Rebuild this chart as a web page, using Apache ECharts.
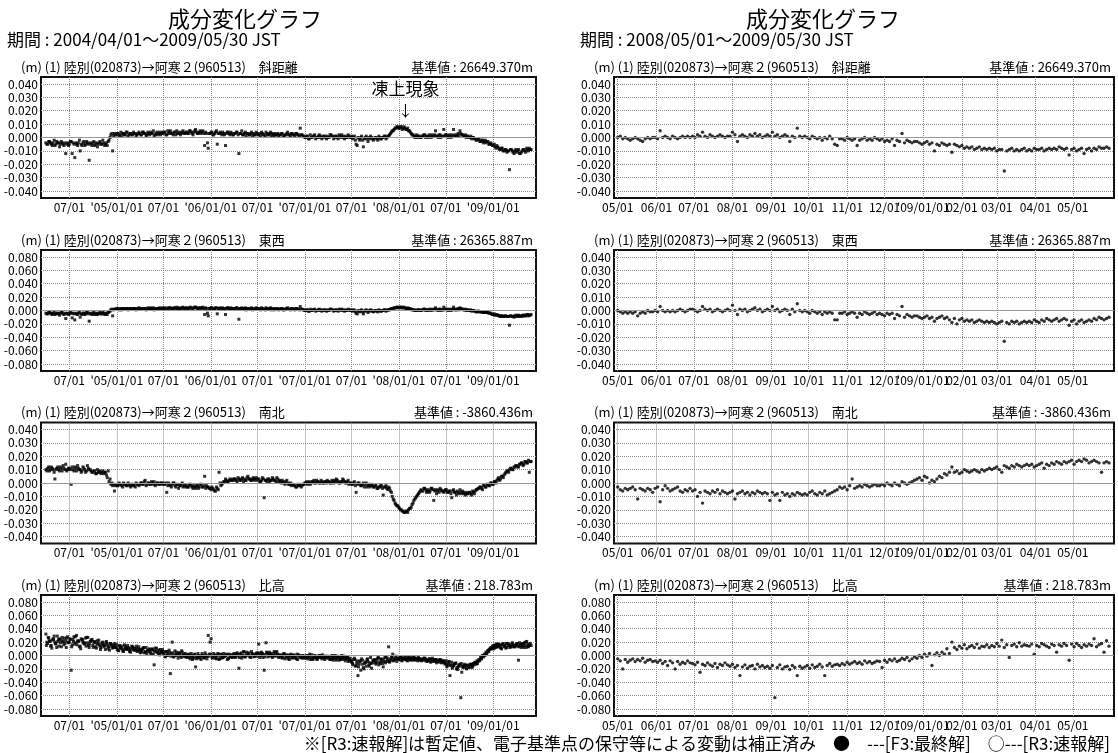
<!DOCTYPE html>
<html><head><meta charset="utf-8">
<script src="https://cdn.jsdelivr.net/npm/echarts@6/dist/echarts.min.js"></script>
<style>html,body{margin:0;padding:0;background:#fff}#c{width:1118px;height:753px}</style>
</head><body><div id="c"></div><script>
// ===== DATA (values in mm) =====
// Long period: interleaved weekly sample sets (A: from 04/01, B: from 04/05, C: from 04/03 for the noisy height series)
const longStartA = '2004-04-01', longStartB = '2004-04-05', longStartC = '2004-04-03', longStepDays = 7;
const shortStart = '2008-05-01', shortStepDays = 2;

const longSlopeA = [
-4,-5,-3,-5,-4,-6,-3,-4,-5,-4,-6,-12,-4,
-5,-3,-4,-15,-5,-4,-10,-6,-3,-5,-4,-17,-5,
-4,-6,-4,-5,-3,-5,-4,-5,-6,-2,2,-10,3,
2,3,2,1,3,2,4,2,3,2,3,1,3,
3,2,4,3,2,3,4,3,1,3,2,4,3,
3,4,2,3,5,3,4,2,3,4,3,5,3,
4,3,5,3,4,6,3,4,3,5,-6,3,-8,
3,4,2,4,-5,3,3,4,2,3,4,2,3,
2,3,4,-12,3,2,3,1,3,2,4,3,2,
3,2,1,3,2,4,2,3,1,2,3,2,1,
2,3,1,2,4,2,3,2,1,3,2,7,2,
1,0,1,-1,0,1,2,0,1,0,-1,1,0,
1,0,2,1,0,1,-1,1,2,0,1,0,1,
0,-1,1,-5,0,-2,1,-7,0,-1,0,1,-1,
-1,0,-2,0,-1,0,1,0,1,3,5,6,7,
8,7,8,7,7,6,5,4,2,1,1,0,1,
0,1,2,1,0,1,2,1,5,1,2,0,1,
1,2,0,1,2,6,1,2,1,3,2,1,0,
1,0,-1,0,-1,-2,-1,-3,-2,-3,-4,-3,-5,
-5,-6,-7,-6,-8,-9,-8,-10,-9,-10,-24,-9,-11,
-10,-11,-9,-12,-10,-9,-11,-9,-8,-9];
const longSlopeB = [
-5,-3,-4,-6,-2,-5,-4,-7,-3,-5,-4,-5,-6,
-3,-12,-5,-4,-6,-2,-5,-4,-6,-3,-5,-4,-6,
-3,-5,-7,-4,-5,-2,-6,-4,-3,0,3,1,2,
3,1,4,3,2,4,1,3,2,4,3,2,4,
2,4,3,1,4,2,3,5,2,4,3,2,4,
4,2,5,4,3,2,4,5,3,2,4,3,4,
3,5,4,2,5,4,3,5,4,3,4,-4,3,
4,2,3,5,3,4,2,3,-6,4,3,4,2,
3,4,2,3,5,2,4,3,2,3,1,2,4,
2,3,4,2,1,3,2,4,3,1,2,3,2,
3,1,2,3,2,1,3,2,3,2,1,2,1,
0,1,-1,2,0,1,-1,0,2,1,0,1,-1,
0,2,1,-1,1,0,2,0,1,-1,0,2,0,
1,0,-2,-6,-1,0,-2,-1,1,-3,-1,0,-2,
0,-1,1,-1,0,1,-1,1,2,4,5,7,8,
7,8,6,8,6,7,5,3,2,0,2,1,0,
1,2,0,1,2,0,1,2,1,0,2,1,6,
2,1,2,0,1,2,1,3,5,2,1,2,1,
0,1,0,-1,-2,-1,-3,-2,-4,-2,-3,-5,-4,
-6,-5,-8,-7,-9,-8,-10,-9,-11,-10,-9,-10,-12,
-9,-10,-12,-11,-9,-10,-8,-10,-9];

const longEWA = [
-4,-5,-3,-5,-4,-6,-4,-5,-4,-3,-6,-12,-4,
-5,-4,-4,-14,-5,-4,-10,-6,-4,-5,-3,-16,-5,
-4,-6,-4,-5,-3,-5,-4,-5,-6,-2,1,-8,2,
2,3,2,1,3,2,3,2,3,2,3,1,3,
3,2,3,3,2,3,4,3,1,3,2,4,3,
3,4,2,3,4,3,4,2,3,4,3,5,3,
4,3,5,3,4,5,3,4,3,5,-6,3,-8,
3,4,2,4,-5,3,3,4,2,3,4,2,3,
2,3,4,-13,3,2,3,1,3,2,4,3,2,
3,2,1,3,2,4,2,3,1,2,3,2,1,
2,3,1,2,4,2,3,2,1,3,2,6,2,
1,0,1,-1,0,1,2,0,1,0,-1,1,0,
1,0,2,1,0,1,-1,1,2,0,1,0,1,
0,-1,1,-4,0,-2,1,-5,0,-1,0,1,-1,
-1,0,-2,0,-1,0,1,0,1,2,3,4,4,
5,4,5,4,4,3,3,2,1,1,0,0,1,
0,1,2,1,0,1,2,1,4,1,2,0,1,
1,2,0,1,2,5,1,2,1,3,2,1,0,
1,0,-1,0,-1,-2,-1,-2,-2,-3,-3,-3,-4,
-5,-6,-7,-6,-8,-9,-8,-9,-8,-9,-22,-8,-9,
-8,-9,-7,-8,-9,-7,-8,-6,-7,-6];
const longEWB = [
-5,-3,-4,-6,-3,-5,-4,-7,-3,-5,-4,-5,-6,
-3,-11,-5,-4,-6,-3,-5,-4,-6,-3,-5,-4,-6,
-3,-5,-6,-4,-5,-3,-6,-4,-3,-1,2,1,2,
3,1,3,3,2,3,1,3,2,3,3,2,4,
2,3,3,1,4,2,3,4,2,3,3,2,4,
3,2,4,4,3,2,4,5,3,2,4,3,4,
3,4,4,2,5,4,3,4,4,3,4,-4,3,
4,2,3,4,3,4,2,3,-6,4,3,4,2,
3,4,2,3,4,2,4,3,2,3,1,2,4,
2,3,4,2,1,3,2,4,3,1,2,3,2,
3,1,2,3,2,1,3,2,3,2,1,2,1,
0,1,-1,2,0,1,-1,0,2,1,0,1,-1,
0,2,1,-1,1,0,2,0,1,-1,0,2,0,
1,0,-2,-5,-1,0,-2,-1,1,-3,-1,0,-2,
0,-1,1,-1,0,1,-1,1,1,3,3,4,5,
4,5,4,5,3,4,3,2,1,0,1,1,0,
1,2,0,1,2,0,1,2,1,0,2,1,5,
2,1,2,0,1,2,1,3,4,2,1,2,1,
0,1,0,-1,-2,-1,-2,-2,-3,-2,-3,-4,-4,
-6,-5,-7,-7,-8,-8,-9,-8,-9,-9,-8,-9,-10,
-7,-8,-9,-8,-7,-8,-6,-8,-7];

const longNSA = [
10,11,9,12,10,3,11,10,12,9,11,14,10,
11,-1,10,12,9,11,10,9,11,8,13,10,9,
8,9,7,8,9,8,7,8,4,1,-1,-2,-6,
-1,-2,-1,-2,0,-1,-2,-1,-3,-1,-2,0,-1,
-1,0,-1,2,-1,0,-1,0,1,-1,0,-1,0,
0,-1,-7,0,-2,-1,0,-3,-1,-2,-1,-3,-2,
-2,-3,-1,-3,-2,-4,-2,-3,-1,-3,5,-2,-3,
-4,-3,-5,-6,-4,8,-2,0,1,2,1,3,2,
2,3,1,3,2,4,3,2,5,3,2,4,3,
2,3,1,4,-11,2,3,1,2,3,2,4,1,
1,2,0,1,0,-1,-2,-1,-2,-3,-2,-1,-2,
-1,0,-1,1,0,1,0,2,1,0,1,0,1,
2,1,0,1,2,3,1,0,1,2,0,1,-1,
0,-1,1,-7,0,-1,-2,0,-1,-3,-1,-2,-2,
-3,-2,-4,-3,-2,-9,-3,-4,-3,-6,-10,-13,-16,
-17,-19,-20,-21,-22,-21,-20,-19,-16,-13,-11,-9,-7,
-5,-6,-4,-7,-5,-6,-4,-13,-5,-6,-7,-5,-6,
-6,-5,-7,-6,-11,-5,-7,-6,-8,-7,-6,-8,-7,
-8,-7,-9,-7,-6,-5,-4,-3,-5,-2,-3,-1,-2,
0,-1,1,2,4,3,5,6,8,9,10,11,10,
12,13,12,14,15,14,16,15,8,16];
const longNSB = [
9,12,10,11,8,10,12,9,11,13,10,9,11,
10,12,9,11,13,10,8,12,10,9,11,10,8,
9,7,10,8,7,9,8,6,9,3,0,-1,-2,
-2,0,-1,-3,-1,-2,0,-2,-1,-2,-3,-1,-2,
0,-1,1,-2,0,-1,1,-1,-2,0,-1,0,-1,
-1,0,-2,-1,-3,0,-2,-1,-4,-2,0,-2,-3,
-3,-1,-2,-4,-3,-2,-4,-1,-3,-2,-4,-3,-4,
-5,-4,-6,-3,-5,0,-1,1,3,1,2,2,3,
3,2,4,2,3,1,2,4,3,2,3,2,4,
3,1,2,3,2,1,3,2,4,2,1,3,2,
0,1,-1,2,-1,0,-1,-2,-3,-1,-2,-3,-1,
0,1,0,-1,1,2,0,1,0,2,0,1,0,
1,0,2,0,1,2,0,1,3,1,0,2,0,
-1,0,-2,-1,0,-2,-1,-3,0,-2,-3,-1,-3,
-2,-4,-3,-2,-4,-3,-2,-5,-4,-7,-12,-15,-17,
-18,-20,-21,-22,-21,-22,-19,-18,-15,-12,-10,-8,-6,
-6,-4,-5,-6,-7,-4,-5,-6,-8,-5,-4,-6,-7,
-5,-7,-6,-8,-6,-7,-9,-7,-5,-8,-7,-9,-8,
-7,-8,-6,-8,-5,-4,-3,-4,-2,-3,-1,-2,0,
-1,1,0,3,2,5,4,7,9,8,11,10,12,
13,12,14,15,13,16,15,17,16];

const longUDA = [
32,18,22,15,25,20,12,24,19,27,16,22,28,
20,-22,24,17,30,21,14,23,18,26,19,12,22,
15,21,11,18,14,19,16,9,17,13,18,11,14,
12,8,15,10,6,13,9,11,5,12,8,10,7,
9,5,11,6,3,8,4,10,-14,7,5,1,6,
3,-1,6,1,-27,20,-2,2,0,4,-3,1,-2,
-2,1,-5,0,-4,-17,-3,-1,-6,0,-3,-1,30,
20,-2,3,-4,0,-6,2,-3,-1,1,-5,0,-2,
1,-3,4,-19,2,-1,5,0,3,-2,6,1,-1,
4,17,0,3,-22,19,2,5,-1,3,0,6,-2,
1,-4,3,-2,0,-6,2,-3,-1,-5,1,-2,-4,
-1,-3,-5,0,-2,-6,-1,-4,-2,0,-5,-3,-1,
-4,-2,-6,-1,-3,-7,-2,-5,0,-4,-8,-3,-5,
-7,-12,-4,-15,-30,-9,-5,-18,-10,-6,-14,-3,-11,
-8,-13,-4,-10,-6,-17,-2,-9,13,-5,-3,-7,-1,
-4,-6,-2,-5,-3,-7,-4,-6,-5,-3,-7,-5,-6,
-5,-7,-4,-6,-8,-5,-7,-9,-6,-8,-10,-7,-9,
-11,-8,-13,-30,-10,-15,-12,-18,-14,-63,-16,-13,-19,
-15,-17,-13,-12,-10,-8,-6,-3,0,2,5,7,9,
12,10,15,13,17,12,16,14,11,18,15,13,16,
13,17,-7,15,18,12,20,14,16,15];
const longUDB = [
20,26,14,23,29,17,21,25,13,22,18,26,20,
24,16,28,19,22,13,25,20,17,27,15,21,24,
19,13,22,16,12,20,15,21,10,18,14,16,12,
9,14,11,7,16,10,12,8,14,9,11,6,13,
7,10,4,12,8,6,9,2,11,5,8,4,9,
2,6,0,5,3,-2,7,1,4,-1,5,2,0,
1,-3,3,-2,2,-5,0,-2,3,-4,1,-1,2,
25,-3,1,-5,2,-1,-4,3,0,-6,2,-2,1,
-2,3,-1,2,-4,6,-2,1,4,-3,2,-1,3,
2,-3,5,1,-2,4,0,3,-3,6,-1,2,0,
-2,2,-5,1,-3,0,-4,1,-2,-6,0,-3,-1,
-3,0,-2,-6,1,-4,-2,-5,0,-3,-1,-6,-2,
-2,-6,0,-4,-5,-1,-7,-3,-6,-2,-5,-9,-4,
-10,-6,-16,-8,-13,-22,-7,-12,-16,-9,-11,-19,-8,
-11,-6,-14,-5,-12,-9,-3,-7,-10,-2,-8,-4,-9,
-6,-3,-7,-4,-5,-8,-2,-5,-7,-4,-6,-3,-7,
-6,-4,-8,-7,-5,-9,-6,-8,-11,-7,-6,-10,-8,
-12,-15,-9,-14,-17,-12,-20,-16,-13,-25,-17,-15,-14,
-18,-14,-16,-11,-13,-9,-7,-5,-2,1,4,6,10,
14,11,17,13,16,10,18,15,12,17,14,19,13,
16,14,19,12,17,15,21,13,18];
const longUDC = [
15,27,21,11,24,18,29,14,23,20,26,12,19,
25,13,21,28,16,22,10,24,19,14,27,17,23,
12,20,17,23,9,16,13,19,14,8,16,12,18,
16,7,12,14,9,11,15,6,10,13,8,14,10,
4,9,12,5,7,10,2,8,6,11,3,9,5,
6,-2,3,8,-1,4,0,5,-4,2,7,-1,3,
-3,2,-1,-6,1,-2,3,-4,0,-2,4,-5,-1,
2,-4,0,-2,3,-5,1,-3,-1,2,-4,1,-3,
3,-1,2,-3,4,0,-2,5,1,-1,3,-2,2,
-1,4,2,-3,1,5,-2,3,0,-1,4,1,-3,
0,-3,2,-1,-5,1,-2,0,-4,2,-1,-3,0,
-4,-1,-3,2,-5,-2,0,-6,-1,-3,1,-4,-2,
-1,-5,-3,-7,0,-4,-2,-6,-3,-1,-5,-2,-7,
-9,-14,-6,-11,-17,-8,-13,-20,-10,-5,-16,-12,-7,
-6,-10,-3,-12,-8,-5,-11,-4,-9,-7,2,-6,-4,
-5,-3,-8,-4,-6,-2,-5,-7,-3,-6,-4,-8,-5,
-8,-6,-5,-9,-7,-10,-4,-8,-6,-9,-7,-11,-8,
-13,-17,-10,-15,-19,-14,-11,-21,-16,-12,-18,-15,-20,
-16,-13,-18,-14,-11,-12,-8,-4,-1,0,3,8,11,
10,15,12,17,14,11,16,13,18,15,12,17,14,
15,18,13,16,14,19,12,17,15];

const shortSlope = [
0,1,-1,0,-1,-2,-1,0,-1,-2,-3,-1,0,-1,0,
0,-1,5,0,1,0,-1,1,0,-1,0,1,0,1,0,
1,0,2,1,4,1,0,2,1,0,1,2,1,0,1,
1,4,2,-3,1,2,1,0,2,1,3,1,2,0,1,
2,1,4,1,2,0,1,2,1,-3,1,0,7,1,0,
1,0,-1,1,0,-1,0,-2,0,-1,1,-1,-5,-6,-1,
-1,-2,0,-1,-2,-1,-6,-2,-1,0,-2,-1,-2,0,-1,
-2,-1,-3,-2,-3,-1,-6,-2,-3,3,-4,-2,-3,-4,-3,
-3,-4,-5,-4,-3,-5,-4,-10,-5,-6,-4,-5,-6,-5,-11,
-5,-6,-7,-6,-8,-7,-8,-7,-9,-8,-7,-9,-8,-9,-8,
-9,-8,-10,-9,-9,-25,-10,-9,-8,-10,-9,-10,-9,-8,-10,
-9,-10,-8,-9,-9,-8,-10,-9,-8,-9,-8,-9,-7,-8,-9,
-8,-13,-9,-8,-10,-9,-8,-12,-9,-8,-10,-8,-9,-7,-8,
-8,-7,-8];

const shortEW = [
0,-1,-2,-1,-2,-1,-2,-1,-4,-2,-1,-2,0,-1,-1,
0,-1,3,0,-1,0,-1,0,-1,0,1,0,-1,0,1,
1,0,-1,0,3,1,0,1,-1,0,1,0,-1,0,1,
0,4,0,-3,1,0,1,-1,0,1,2,0,1,-1,0,
1,0,3,0,1,-1,0,1,0,-3,1,-1,5,0,-1,
0,-1,-2,0,-1,-2,-1,-3,-1,-2,-1,-2,-7,-7,-2,
-2,-1,-3,-2,-1,-2,-5,-2,-3,-1,-2,-3,-2,-1,-3,
-2,-3,-4,-2,-3,-2,-6,-3,-4,3,-5,-3,-4,-5,-4,
-4,-5,-6,-5,-4,-6,-5,-8,-6,-5,-4,-6,-5,-7,-9,
-6,-10,-7,-6,-8,-7,-8,-7,-9,-8,-7,-8,-9,-8,-9,
-8,-9,-10,-9,-8,-23,-9,-10,-8,-9,-8,-10,-9,-8,-9,
-8,-9,-7,-8,-9,-7,-8,-6,-7,-8,-7,-6,-8,-7,-6,
-7,-11,-8,-7,-10,-8,-7,-9,-8,-7,-8,-6,-7,-5,-6,
-7,-6,-5];

const shortNS = [
-3,-5,-6,-4,-5,-4,-3,-5,-12,-4,-5,-6,-4,-5,-7,
-4,-3,-14,-5,-2,-4,-6,-5,-4,-3,-6,-7,-5,-6,-4,
-6,-5,-10,-7,-15,-6,-7,-8,-6,-7,-5,-8,-6,-7,-8,
-7,-6,-12,-8,-7,-6,-8,-7,-9,-7,-8,-6,-7,-8,-7,
-8,-13,-7,-9,-8,-13,-7,-9,-8,-10,-8,-9,-7,-8,-9,
-8,-9,-7,-6,-8,-9,-7,-8,-6,-9,-8,-7,-6,-5,-3,
-4,-3,-5,-2,3,-4,-3,-2,-3,-1,-2,-3,-2,-1,-2,
-2,-1,-2,0,-1,-2,0,-1,-2,1,0,-1,0,1,2,
3,4,2,5,4,0,2,1,3,5,4,7,6,8,12,
8,9,7,8,10,9,8,9,10,9,8,10,9,10,11,
10,11,12,10,8,13,12,11,13,12,14,13,12,13,14,
13,14,12,13,14,15,11,14,13,15,14,16,15,14,16,
15,16,17,14,16,17,16,18,17,15,16,17,16,15,8,
15,16,15];

const shortUD = [
-5,-8,-20,-6,-10,-7,-5,-9,-6,-8,-4,-10,-7,-6,-9,
-8,-10,-7,-12,-9,-15,-8,-11,-20,-9,-13,-10,-12,-8,-11,
-12,-14,-10,-25,-13,-15,-11,-14,-16,-12,-18,-13,-15,-11,-14,
-16,-13,-18,-15,-30,-17,-14,-19,-16,-15,-20,-13,-17,-15,-18,
-16,-19,-15,-63,-18,-14,-20,-17,-16,-21,-15,-18,-30,-16,-19,
-17,-15,-19,-14,-18,-16,-13,-17,-30,-15,-12,-16,-14,-13,-15,
-12,-14,-10,-13,-11,-9,-12,-10,-13,-8,-11,-9,-12,-10,-8,
-9,-18,-7,-10,-6,-8,-5,-9,-7,-4,-6,-3,-8,-5,-2,
-4,0,-3,2,-1,3,-15,1,4,0,5,2,10,3,20,
12,9,14,11,16,10,13,15,12,17,11,14,13,16,12,
15,13,18,14,23,12,16,-3,15,17,13,19,14,16,15,
14,17,2,15,13,18,16,14,12,17,15,5,16,14,18,
15,-7,17,13,18,15,12,16,14,17,15,25,13,16,18,
5,22,14];

const componentNames = ['斜距離','東西','南北','比高'];
const baseValues = ['26649.370m','26365.887m','-3860.436m','218.783m'];
const lineText = '(m) (1) 陸別(020873)→阿寒２(960513)　';
const yTicks40 = [-0.04,-0.03,-0.02,-0.01,0,0.01,0.02,0.03,0.04];
const yTicks80 = [-0.08,-0.06,-0.04,-0.02,0,0.02,0.04,0.06,0.08];
const longTicks = ['2004-07-01','2005-01-01','2005-07-01','2006-01-01','2006-07-01','2007-01-01','2007-07-01','2008-01-01','2008-07-01','2009-01-01'];
const longTickLabels = ['07/01',"'05/01/01",'07/01',"'06/01/01",'07/01',"'07/01/01",'07/01',"'08/01/01",'07/01',"'09/01/01"];
const shortTicks = ['2008-05-01','2008-06-01','2008-07-01','2008-08-01','2008-09-01','2008-10-01','2008-11-01','2008-12-01','2009-01-01','2009-02-01','2009-03-01','2009-04-01','2009-05-01'];
const shortTickLabels = ['05/01','06/01','07/01','08/01','09/01','10/01','11/01','12/01',"'09/01/01",'02/01','03/01','04/01','05/01'];
const titleText = '成分変化グラフ';
const periodTexts = ['期間 : 2004/04/01～2009/05/30 JST','期間 : 2008/05/01～2009/05/30 JST'];
const footerText = '※[R3:速報解]は暫定値、電子基準点の保守等による変動は補正済み　●　---[F3:最終解]　○---[R3:速報解]';
const annotationText = '凍上現象';
const annotationDate = '2008-01-27';

// ===== BUILD =====
const FONT = '"Noto Sans CJK JP","Noto Sans",sans-serif';
const DAY = 86400000;
function ts(s){const p=s.split('-').map(Number);return Date.UTC(p[0],p[1]-1,p[2]);}
function seq(start, step, n){const t0=ts(start);const a=[];for(let i=0;i<n;i++)a.push(t0+i*step*DAY);return a;}

const cols = [
  {left:41, width:495, min:ts('2004-03-13'), max:ts('2009-06-16'), ticks:longTicks.map(ts), labels:longTickLabels,
   sets:[{start:longStartA, step:longStepDays, arr:[longSlopeA,longEWA,longNSA,longUDA]},
         {start:longStartB, step:longStepDays, arr:[longSlopeB,longEWB,longNSB,longUDB]},
         {start:longStartC, step:longStepDays, arr:[null,null,null,longUDC]}],
   sym:'rect', symSize:3,
   ytick:[yTicks40,yTicks80,yTicks40,yTicks80], titleX:245, periodX:7},
  {left:614, width:500, min:ts('2008-04-28'), max:ts('2009-06-03'), ticks:shortTicks.map(ts), labels:shortTickLabels,
   sets:[{start:shortStart, step:shortStepDays, arr:[shortSlope,shortEW,shortNS,shortUD]}],
   sym:'circle', symSize:3.4,
   ytick:[yTicks40,yTicks40,yTicks40,yTicks80], titleX:823, periodX:580}
];
const tops = [77, 250, 422.5, 595];
const boxH = 121;

const grid=[], xAxis=[], yAxis=[], series=[], graphic=[];
const gridLine = {show:true, lineStyle:{color:'#8c8c8c', width:1, type:[1,1]}};
let k=0;
cols.forEach((c,ci)=>{
  graphic.push({type:'text', x:c.titleX, y:19, style:{text:titleText, font:'22px '+FONT, fill:'#000', align:'center', verticalAlign:'middle', textAlign:'center', textVerticalAlign:'middle'}});
  graphic.push({type:'text', x:c.periodX, y:40, style:{text:periodTexts[ci], font:'17px '+FONT, fill:'#000', align:'left', verticalAlign:'middle', textAlign:'left', textVerticalAlign:'middle'}});
  tops.forEach((top,ri)=>{
    grid.push({left:c.left, top:top, width:c.width, height:boxH, show:true, borderColor:'#111', borderWidth:2, backgroundColor:'transparent'});
    const tk = c.ticks, lb = c.labels;
    xAxis.push({type:'value', gridIndex:k, min:c.min, max:c.max, scale:true,
      axisLine:{show:false}, axisTick:{show:false, customValues:tk},
      axisLabel:{customValues:tk, hideOverlap:false, margin:3, color:'#000', fontSize:12, fontFamily:FONT,
        formatter:(v)=>{const i=tk.indexOf(v); return i>=0?lb[i]:'';}},
      splitLine:gridLine});
    const yt = c.ytick[ri]; const lim = yt[yt.length-1]*1.13;
    yAxis.push({type:'value', gridIndex:k, min:-lim, max:lim,
      axisLine:{show:false}, axisTick:{show:false, customValues:yt},
      axisLabel:{customValues:yt, margin:3, color:'#000', fontSize:12, fontFamily:FONT, formatter:(v)=>v.toFixed(3)},
      splitLine:gridLine});
    c.sets.forEach((set,si)=>{
      const vals = set.arr[ri];
      if(!vals) return;
      const xs = seq(set.start, set.step, vals.length);
      const s = {type:'scatter', xAxisIndex:k, yAxisIndex:k, symbol:c.sym, symbolSize:c.symSize, silent:true,
        itemStyle:{color:'#000'}, data: vals.map((v,i)=>[xs[i], v/1000])};
      if(si===0){
        s.markLine = {silent:true, symbol:['none','none'], label:{show:false}, lineStyle:{color:'#9a9a9a', type:'solid', width:1}, data:[{yAxis:0}], animation:false};
      }
      if(ci===0 && ri===0 && si===0){
        s.markPoint = {silent:true, animation:false, data:[
          {coord:[ts(annotationDate), 0.0362], symbol:'rect', symbolSize:1, itemStyle:{color:'rgba(0,0,0,0)'},
           label:{show:true, position:'inside', formatter:annotationText, fontSize:17, fontFamily:FONT, color:'#000'}},
          {coord:[ts(annotationDate), 0.0205], symbol:'rect', symbolSize:1, itemStyle:{color:'rgba(0,0,0,0)'},
           label:{show:true, position:'inside', formatter:'↓', fontSize:15, fontFamily:FONT, color:'#000'}}
        ]};
      }
      series.push(s);
    });
    graphic.push({type:'text', x:c.left-20, y:top-10, style:{text:lineText+componentNames[ri], font:'13px '+FONT, fill:'#000', align:'left', verticalAlign:'middle', textAlign:'left', textVerticalAlign:'middle'}});
    graphic.push({type:'text', x:c.left+c.width-3, y:top-10, style:{text:'基準値 : '+baseValues[ri], font:'13px '+FONT, fill:'#000', align:'right', verticalAlign:'middle', textAlign:'right', textVerticalAlign:'middle'}});
    k++;
  });
});
graphic.push({type:'text', x:1110, y:744, style:{text:footerText, font:'17px '+FONT, fill:'#000', align:'right', verticalAlign:'middle', textAlign:'right', textVerticalAlign:'middle'}});

const chart = echarts.init(document.getElementById('c'), null, {renderer:'canvas'});
chart.setOption({animation:false, backgroundColor:'#fff', grid, xAxis, yAxis, series, graphic});
</script></body></html>
